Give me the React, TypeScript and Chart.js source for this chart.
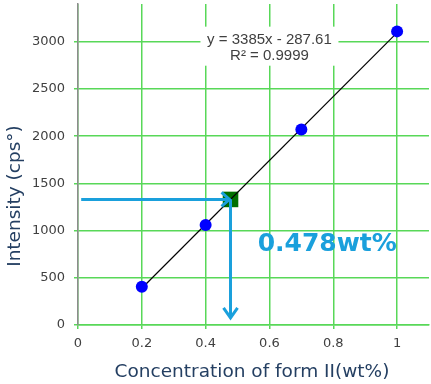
import React, { useEffect, useRef } from "react";
import { Chart, registerables } from "chart.js";

Chart.register(...registerables);

// Calibration standards
const standardX = [0.2, 0.4, 0.7, 1.0];
const standardY = [405, 1060, 2070, 3110];
// Fitted line endpoints (y = 3385x - 287.61)
const fitX = [0.2, 1.0];
const fitY = [389.4, 3097.4];
// Unknown sample
const unknownX = [0.478];
const unknownY = [1330];
// Arrow guide ends
const arrowStartX = [0.01];
const arrowEndY = [75];
// Tick values
const xTicks = [0, 0.2, 0.4, 0.6, 0.8, 1.0];
const yTicks = [0, 500, 1000, 1500, 2000, 2500, 3000];
// Texts
const equationLines = ["y = 3385x - 287.61", "R\u00b2 = 0.9999"];
const resultText = "0.478wt%";
const xTitle = "Concentration of form II(wt%)";
const yTitle = "Intensity (cps\u00b0)";

const BLUE_ARROW = "#1aa0dc";
const GRID = "#58d858";
const TITLE_COLOR = "#243f62";

const overlayPlugin = {
  id: "overlay",
  beforeDatasetsDraw(chart: any) {
    const { ctx, scales } = chart;
    const x = scales.x, y = scales.y;
    const cx = x.getPixelForValue(0.6);
    const b1 = y.getPixelForValue(2980);
    const b2 = y.getPixelForValue(2810);
    ctx.save();
    ctx.fillStyle = "#ffffff";
    ctx.fillRect(cx - 69, b1 - 17, 138, b2 - b1 + 23);
    ctx.font = "15px 'Liberation Sans', Arial, sans-serif";
    ctx.fillStyle = "#404040";
    ctx.textAlign = "center";
    ctx.textBaseline = "alphabetic";
    ctx.fillText(equationLines[0], cx, b1);
    ctx.fillText(equationLines[1], cx, b2);
    ctx.restore();
  },
  afterDatasetsDraw(chart: any) {
    const { ctx, scales } = chart;
    const x = scales.x, y = scales.y;
    const px = x.getPixelForValue(unknownX[0]);
    const py = y.getPixelForValue(unknownY[0]);
    const sx = x.getPixelForValue(arrowStartX[0]);
    const ey = y.getPixelForValue(arrowEndY[0]);
    ctx.save();
    ctx.strokeStyle = BLUE_ARROW;
    ctx.lineWidth = 3;
    ctx.lineCap = "butt";
    ctx.lineJoin = "miter";
    ctx.beginPath();
    ctx.moveTo(sx, py);
    ctx.lineTo(px - 1, py);
    ctx.stroke();
    ctx.beginPath();
    ctx.moveTo(px - 9, py - 7);
    ctx.lineTo(px - 1, py);
    ctx.lineTo(px - 9, py + 7);
    ctx.stroke();
    ctx.beginPath();
    ctx.moveTo(px, py);
    ctx.lineTo(px, ey);
    ctx.stroke();
    ctx.beginPath();
    ctx.moveTo(px - 7, ey - 10);
    ctx.lineTo(px, ey);
    ctx.lineTo(px + 7, ey - 10);
    ctx.stroke();
    ctx.font = "bold 25px 'DejaVu Sans', Verdana, sans-serif";
    ctx.fillStyle = BLUE_ARROW;
    ctx.textAlign = "left";
    ctx.textBaseline = "alphabetic";
    ctx.fillText(resultText, x.getPixelForValue(0.563), y.getPixelForValue(785));
    ctx.restore();
  },
  afterDraw(chart: any) {
    const { ctx } = chart;
    ctx.save();
    ctx.font = "18.5px 'DejaVu Sans', Verdana, sans-serif";
    ctx.fillStyle = TITLE_COLOR;
    ctx.textAlign = "center";
    ctx.textBaseline = "middle";
    ctx.fillText(xTitle, 252, 372);
    ctx.translate(15, 196);
    ctx.rotate(-Math.PI / 2);
    ctx.fillText(yTitle, 0, 0);
    ctx.restore();
  },
};

export default function App() {
  const ref = useRef<HTMLCanvasElement | null>(null);
  useEffect(() => {
    document.body.style.margin = "0";
    if (!ref.current) return;
    const chart = new Chart(ref.current, {
      type: "scatter",
      data: {
        datasets: [
          {
            label: "standards",
            data: standardX.map((v, i) => ({ x: v, y: standardY[i] })),
            backgroundColor: "#0000ff",
            borderColor: "#0000ff",
            borderWidth: 0,
            pointRadius: 6,
          },
          {
            label: "fit",
            type: "line",
            data: fitX.map((v, i) => ({ x: v, y: fitY[i] })),
            borderColor: "#000000",
            borderWidth: 1.2,
            pointRadius: 0,
            fill: false,
          } as any,
          {
            label: "unknown",
            data: unknownX.map((v, i) => ({ x: v, y: unknownY[i] })),
            backgroundColor: "#007000",
            borderColor: "#007000",
            borderWidth: 0,
            pointStyle: "rect",
            pointRadius: 11,
          },
        ],
      },
      options: {
        responsive: false,
        animation: false,
        layout: { autoPadding: false, padding: { top: 4, right: 2, left: 0, bottom: 0 } },
        plugins: { legend: { display: false }, tooltip: { enabled: false } },
        scales: {
          x: {
            type: "linear",
            min: 0,
            max: 1.1,
            afterBuildTicks: (s: any) => {
              s.ticks = xTicks.map((v) => ({ value: v }));
            },
            afterFit: (s: any) => {
              s.height = 59;
              s.paddingLeft = 0;
              s.paddingRight = 0;
            },
            ticks: {
              font: { family: "'DejaVu Sans', Verdana, sans-serif", size: 13 },
              color: "#404040",
              padding: 7,
              maxRotation: 0,
              callback: (v: any) => String(Math.round(Number(v) * 10) / 10),
            },
            grid: { color: GRID, lineWidth: 1.5, drawTicks: true, tickLength: 4 },
            border: { color: GRID, width: 1.5 },
          },
          y: {
            type: "linear",
            min: 0,
            max: 3400,
            afterBuildTicks: (s: any) => {
              s.ticks = yTicks.map((v) => ({ value: v }));
            },
            afterFit: (s: any) => {
              s.width = 78;
              s.paddingTop = 0;
              s.paddingBottom = 0;
            },
            ticks: {
              font: { family: "'DejaVu Sans', Verdana, sans-serif", size: 13 },
              color: "#404040",
              padding: 9,
              callback: (v: any) => String(v),
            },
            grid: { color: GRID, lineWidth: 1.5, drawTicks: true, tickLength: 4 },
            border: { color: "#8c8c8c", width: 1.5 },
          },
        },
      },
      plugins: [overlayPlugin],
    } as any);
    return () => chart.destroy();
  }, []);
  return (
    <div style={{ width: 431, height: 384, background: "#ffffff" }}>
      <canvas ref={ref} width={431} height={384} />
    </div>
  );
}
